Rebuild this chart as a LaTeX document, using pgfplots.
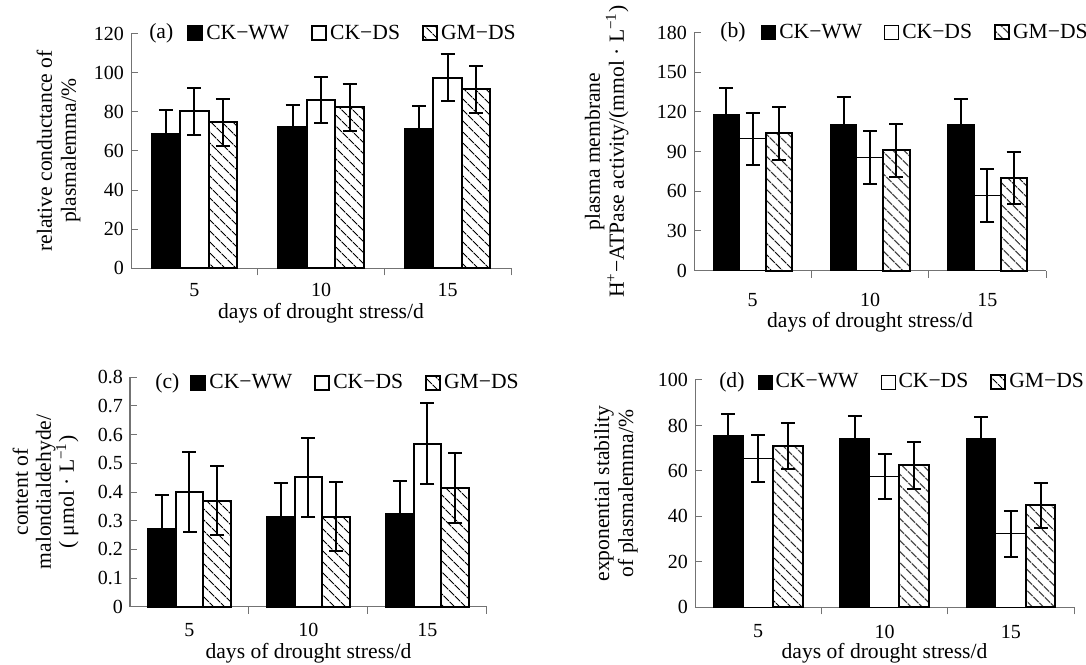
\documentclass[border=0pt]{standalone}
\usepackage{fontspec}
\setmainfont{Liberation Serif}
\usepackage{pgfplots}
\pgfplotsset{compat=1.18}
\usepackage{pgfplotstable}
\usetikzlibrary{patterns.meta}

\definecolor{axisgray}{gray}{0.45}
\newcommand{\lab}{\fontsize{10.8}{12}\selectfont}
\newcommand{\tk}{\fontsize{10}{12}\selectfont}

% columns: day index, CK-WW mean/sd, CK-DS mean/sd, GM-DS mean/sd
\pgfplotstableread{
x wwy  wwe  dsy  dse  gmy  gme
1 68.5 12.6 80.3 12.0 74.7 12.0
2 72.1 11.6 85.9 11.8 82.2 11.8
3 71.2 11.6 97.5 12.0 91.4 12.0
}\tabA
\pgfplotstableread{
x wwy   wwe  dsy  dse  gmy   gme
1 118.0 20.0 99.6 19.9 103.9 20.1
2 110.8 20.4 85.5 19.8 91.1  20.0
3 110.8 19.2 56.7 20.0 70.2  19.8
}\tabB
\pgfplotstableread{
x wwy   wwe   dsy   dse   gmy   gme
1 0.271 0.117 0.400 0.138 0.370 0.119
2 0.314 0.119 0.451 0.137 0.314 0.121
3 0.322 0.116 0.569 0.141 0.415 0.122
}\tabC
\pgfplotstableread{
x wwy  wwe  dsy  dse  gmy  gme
1 75.8 9.4  65.4 10.3 71.0 10.0
2 74.2 10.0 57.5 9.9  62.5 10.3
3 74.2 9.4  32.3 10.2 45.0 9.9
}\tabD

\pgfplotsset{
  panel/.style={
    scale only axis, axis lines=left,
    axis line style={-, draw=axisgray, line width=0.5pt},
    tick style={draw=axisgray, line width=0.5pt},
    tick align=inside,
    major tick length=3.5pt, minor tick length=3.5pt,
    ybar=0pt, ymin=0, xmin=0.5, xmax=3.5,
    xtick={1,2,3}, xticklabels={5,10,15},
    minor xtick={1.5,2.5,3.5},
    major x tick style={draw=none},
    tick label style={font=\tk},
    /pgf/number format/assume math mode=true,
    x tick label style={anchor=center, inner sep=1pt},
    legend columns=-1,
    legend style={draw=none, fill=none, inner sep=0pt, anchor=west, font=\lab,
      nodes={inner sep=1.5pt},
      /tikz/every even column/.append style={column sep=9.5pt}},
    every axis y label/.style={rotate=90, anchor=south, align=center, inner sep=0pt, font=\lab},
    every axis x label/.style={anchor=center, inner sep=0pt, font=\lab},
    clip=false,
  },
  sq/.style={legend image code/.code={\draw[##1] (0pt,-3.5pt) rectangle (7pt,3.5pt);}},
  eb/.style={error bars/y dir=both, error bars/y explicit,
    error bars/error bar style={line width=1pt, black},
    error bars/error mark options={rotate=90, mark size=3.5pt, line width=1pt, black}},
  hatch/.style={pattern={Lines[angle=-45,distance=4pt,line width=0.5pt]}},
}

\begin{document}
\begin{tikzpicture}
\useasboundingbox (0,0) rectangle (543pt,332pt);

% (a)
\begin{axis}[panel, at={(65.5pt,197.85pt)}, anchor=south west,
  width=190pt, height=117.4pt, bar width=0.225,
  ymax=120, ytick={0,20,40,60,80,100,120},
  x tick label style={yshift=-7.5pt},
  ylabel={relative conductance of\\plasmalemma/\%},
  ylabel style={at={(axis description cs:-0.1316,0.5)}},
  xlabel={days of drought stress/d},
  xlabel style={at={(axis description cs:0.5,-0.1917)}},
  legend style={at={(rel axis cs:0.147,1)}}]
\addplot[fill=black, draw=black, line width=1pt, eb, sq] table[x=x, y=wwy, y error=wwe] {\tabA};
\addplot[fill=white, draw=black, line width=1pt, eb, sq] table[x=x, y=dsy, y error=dse] {\tabA};
\addplot[draw=black, line width=1pt, hatch, eb, sq] table[x=x, y=gmy, y error=gme] {\tabA};
\legend{CK−WW,CK−DS,GM−DS}
\node[anchor=west, font=\lab, inner sep=0pt] at (rel axis cs:0.047,1) {(a)};
\end{axis}

% (b)
\begin{axis}[panel, at={(347pt,196.65pt)}, anchor=south west,
  width=176pt, height=119.1pt, bar width=0.225,
  ymax=180, ytick={0,30,60,90,120,150,180},
  x tick label style={yshift=-11.25pt},
  ylabel={plasma membrane\\H\textsuperscript{+}−ATPase activity/(mmol · L\textsuperscript{−1})},
  ylabel style={at={(axis description cs:-0.1847,0.5)}},
  xlabel={days of drought stress/d},
  xlabel style={at={(axis description cs:0.5,-0.2183)}},
  legend style={at={(rel axis cs:0.19,1)}}]
\addplot[fill=black, draw=black, line width=0.5pt, eb, sq] table[x=x, y=wwy, y error=wwe] {\tabB};
\addplot[fill=white, draw=black, line width=0.5pt, eb, sq] table[x=x, y=dsy, y error=dse] {\tabB};
\addplot[draw=black, line width=1pt, hatch, eb, sq] table[x=x, y=gmy, y error=gme] {\tabB};
\legend{CK−WW,CK−DS,GM−DS}
\node[anchor=west, font=\lab, inner sep=0pt] at (rel axis cs:0.074,1) {(b)};
\end{axis}

% (c)
\begin{axis}[panel, at={(65pt,28.65pt)}, anchor=south west,
  width=178.5pt, height=114.7pt, bar width=0.235,
  ymax=0.8, ytick={0,0.1,0.2,0.3,0.4,0.5,0.6,0.7,0.8},
  yticklabel style={/pgf/number format/.cd, fixed, precision=1},
  x tick label style={yshift=-8.3pt},
  ylabel={content of\\malondialdehyde/\\( μmol · L\textsuperscript{−1})},
  ylabel style={at={(axis description cs:-0.1429,0.5)}, font=\fontsize{10.8}{11.5}\selectfont},
  xlabel={days of drought stress/d},
  xlabel style={at={(axis description cs:0.5,-0.2031)}},
  legend style={at={(rel axis cs:0.168,0.974)}}]
\addplot[fill=black, draw=black, line width=1pt, eb, sq] table[x=x, y=wwy, y error=wwe] {\tabC};
\addplot[fill=white, draw=black, line width=1pt, eb, sq] table[x=x, y=dsy, y error=dse] {\tabC};
\addplot[draw=black, line width=1pt, hatch, eb, sq] table[x=x, y=gmy, y error=gme] {\tabC};
\legend{CK−WW,CK−DS,GM−DS}
\node[anchor=west, font=\lab, inner sep=0pt] at (rel axis cs:0.07,0.974) {(c)};
\end{axis}

% (d)
\begin{axis}[panel, at={(347.5pt,28.35pt)}, anchor=south west,
  width=189.5pt, height=113.65pt, bar width=0.235,
  ymax=100, ytick={0,20,40,60,80,100},
  x tick label style={yshift=-8.6pt},
  ylabel={exponential stability\\of plasmalemma/\%},
  ylabel style={at={(axis description cs:-0.1504,0.5)}},
  xlabel={days of drought stress/d},
  xlabel style={at={(axis description cs:0.5,-0.201)}},
  legend style={at={(rel axis cs:0.164,0.99)}}]
\addplot[fill=black, draw=black, line width=0.5pt, eb, sq] table[x=x, y=wwy, y error=wwe] {\tabD};
\addplot[fill=white, draw=black, line width=0.5pt, eb, sq] table[x=x, y=dsy, y error=dse] {\tabD};
\addplot[draw=black, line width=1pt, hatch, eb, sq] table[x=x, y=gmy, y error=gme] {\tabD};
\legend{CK−WW,CK−DS,GM−DS}
\node[anchor=west, font=\lab, inner sep=0pt] at (rel axis cs:0.063,0.99) {(d)};
\end{axis}

\end{tikzpicture}
\end{document}
